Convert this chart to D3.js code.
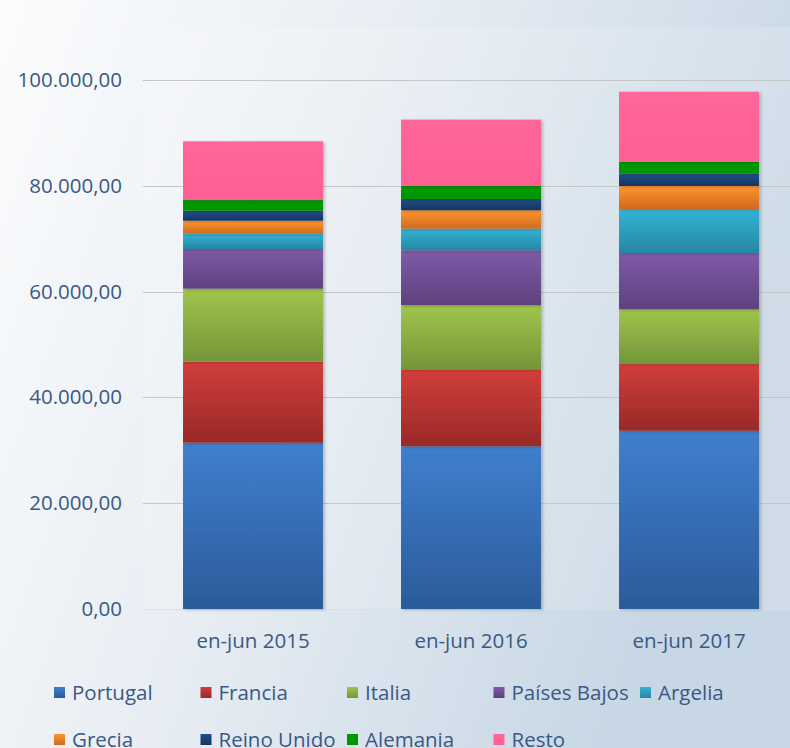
<!DOCTYPE html>
<html>
<head>
    <meta charset="UTF-8">
    <title>Stacked</title>
    <style>
        body { margin: 0; }
        text { font-family: 'Open Sans', sans-serif; fill: #3a5985; }
    </style>
</head>
<body>
    <div id="app"></div>

    <script src="https://d3js.org/d3.v7.min.js"></script>
    <script>
        let periods = ['en-jun 2015', 'en-jun 2016', 'en-jun 2017']
        let countries = ['Portugal', 'Francia', 'Italia', 'Países Bajos', 'Argelia',
            'Grecia', 'Reino Unido', 'Alemania', 'Resto']
        let portugal = [31440, 30760, 33700]
        let francia = [15310, 14560, 12610]
        let italia = [13800, 12100, 10340]
        let paisesBajos = [7500, 10400, 10640]
        let argelia = [2890, 4080, 8320]
        let grecia = [2460, 3480, 4350]
        let reinoUnido = [1890, 2140, 2400]
        let alemania = [2020, 2460, 2190]
        let resto = [11100, 12530, 13230]
        let yTicks = [0, 20000, 40000, 60000, 80000, 100000]

        let series = [portugal, francia, italia, paisesBajos, argelia, grecia, reinoUnido, alemania, resto]
        let colors = [
            ['#3f7fcf', '#2b5b99'], ['#d23e3b', '#982927'], ['#9fc54c', '#74963a'],
            ['#7f5aa9', '#5d417c'], ['#34b3d7', '#2687a3'], ['#ff942d', '#cf6b1f'],
            ['#22508a', '#163461'], ['#009a00', '#009400'], ['#ff6699', '#ff6092']
        ]

        let W = 790
        let H = 748

        let table = periods.map((p, i) => {
            let row = { period: p }
            countries.forEach((c, j) => { row[c] = series[j][i] })
            return row
        })

        let svg = d3.select('#app').append('svg')
            .attr('width', W)
            .attr('height', H)

        let defs = svg.append('defs')
        let bg = defs.append('linearGradient').attr('id', 'bg')
            .attr('x1', 0).attr('y1', 0).attr('x2', 1).attr('y2', 0.35)
        bg.append('stop').attr('offset', '0%').attr('stop-color', '#fbfcfd')
        bg.append('stop').attr('offset', '45%').attr('stop-color', '#e9eef4')
        bg.append('stop').attr('offset', '100%').attr('stop-color', '#c7d7e5')

        colors.forEach((c, i) => {
            let g = defs.append('linearGradient').attr('id', 'g' + i)
                .attr('x1', 0).attr('y1', 0).attr('x2', 0).attr('y2', 1)
            g.append('stop').attr('offset', '0%').attr('stop-color', c[0])
            g.append('stop').attr('offset', '100%').attr('stop-color', c[1])
        })

        let shadow = defs.append('filter').attr('id', 'shadow')
            .attr('x', '-10%').attr('y', '-10%').attr('width', '130%').attr('height', '130%')
        shadow.append('feDropShadow').attr('dx', 2).attr('dy', 1).attr('stdDeviation', 1.5)
            .attr('flood-color', '#000').attr('flood-opacity', 0.22)

        svg.append('rect').attr('width', W).attr('height', H).attr('fill', 'url(#bg)')

        // plot area
        svg.append('rect')
            .attr('x', 143).attr('y', 27)
            .attr('width', W - 143).attr('height', 582)
            .attr('fill', '#fff').attr('opacity', 0.14)

        let x = d3.scaleBand()
            .domain(periods)
            .range([144, 798])
            .paddingInner(0.358)
            .paddingOuter(0.179)

        let y = d3.scaleLinear()
            .domain([0, 100000])
            .range([609, 80])

        let fmt = d3.formatLocale({ decimal: ',', thousands: '.', grouping: [3], currency: ['', '€'] }).format(',.2f')

        // gridlines
        svg.append('g')
            .selectAll('line')
            .data(yTicks).enter()
            .append('line')
            .attr('x1', 143).attr('x2', W)
            .attr('y1', d => Math.round(y(d)) + 0.5)
            .attr('y2', d => Math.round(y(d)) + 0.5)
            .attr('stroke', d => d === 0 ? '#d5e0ea' : '#c4c6c8')
            .attr('stroke-width', 1.2)

        svg.append('g')
            .selectAll('text')
            .data(yTicks).enter()
            .append('text')
            .attr('x', 122)
            .attr('y', d => y(d) + 7)
            .attr('text-anchor', 'end')
            .attr('font-size', 20.5)
            .text(d => fmt(d))

        let stack = d3.stack().keys(countries)
        let layers = stack(table)

        let bars = svg.append('g')
        layers.forEach((layer, i) => {
            bars.append('g')
                .attr('fill', 'url(#g' + i + ')')
                .selectAll('rect')
                .data(layer).enter()
                .append('rect')
                .attr('x', d => x(d.data.period))
                .attr('width', x.bandwidth())
                .attr('y', d => y(d[1]))
                .attr('height', d => y(d[0]) - y(d[1]))
                .attr('filter', 'url(#shadow)')
        })

        svg.append('g')
            .selectAll('text')
            .data(periods).enter()
            .append('text')
            .attr('x', d => x(d) + x.bandwidth() / 2)
            .attr('y', 648)
            .attr('text-anchor', 'middle')
            .attr('font-size', 20.5)
            .text(d => d)

        // legend
        let legend = svg.append('g')
            .selectAll('g')
            .data(countries).enter()
            .append('g')
            .attr('transform', (d, i) => {
                let col = i < 5 ? i : i - 5
                let row = i < 5 ? 0 : 1
                return 'translate(' + (54 + col * 146.5) + ',' + (693 + row * 47) + ')'
            })

        legend.append('rect')
            .attr('x', 0).attr('y', -6)
            .attr('width', 11).attr('height', 11)
            .attr('fill', (d, i) => 'url(#g' + i + ')')

        legend.append('text')
            .attr('x', 18).attr('y', 7)
            .attr('font-size', 20.5)
            .text(d => d)
    </script>
</body>
</html>
